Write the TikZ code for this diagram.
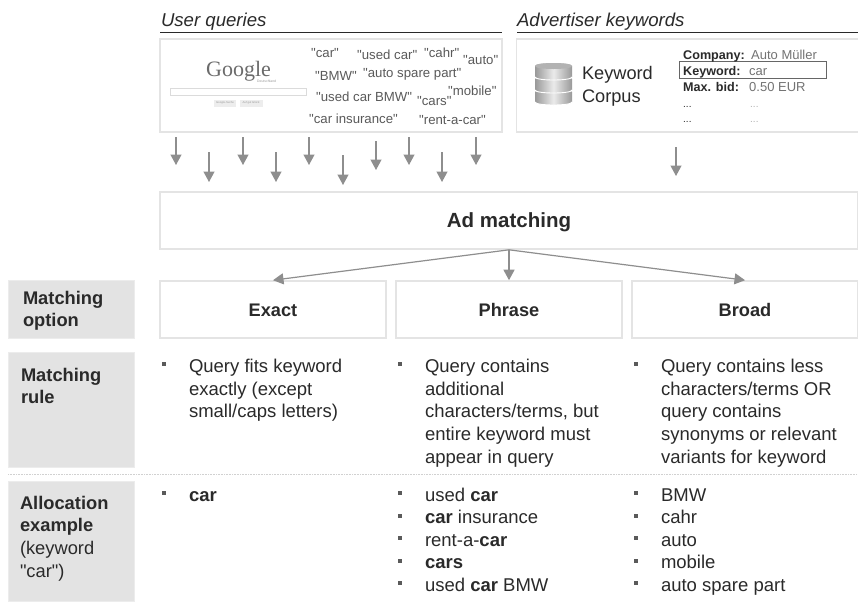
\documentclass[tikz,border=0pt]{standalone}
\usepackage{fontspec}
\setmainfont{Liberation Sans}
\newfontfamily\serifgoogle{Liberation Serif}
\newfontfamily\plainq{Liberation Sans}
\usetikzlibrary{arrows.meta}
\definecolor{boxline}{HTML}{E4E4E4}
\definecolor{labelfill}{HTML}{E3E3E3}
\definecolor{arrowgray}{HTML}{8E8E8E}
\definecolor{ink}{HTML}{2A2A2A}
\definecolor{querygray}{HTML}{5A5A5A}
\newcommand{\fs}[2]{\fontsize{#1}{#2}\selectfont}
\tikzset{
  x=1pt,y=-1pt,
  txt/.style={inner sep=0pt,outer sep=0pt,text=ink,font=\fs{18.5}{22.7}},
  lbl/.style={txt,anchor=base west},
  para/.style={txt,anchor=north west,align=left},
  boldlabel/.style={para,font=\fs{18.3}{22.4}},
  head/.style={lbl,font=\fs{18.6}{22}\itshape},
  whitebox/.style={draw=boxline,line width=1.6pt,fill=white,inner sep=0pt,text=ink},
  optbox/.style={whitebox,minimum width=226pt,minimum height=57pt,text height=17pt,text depth=3pt,font=\fs{18.2}{22}\bfseries},
  graybox/.style={fill=labelfill,draw=boxline!70!white,line width=1pt,minimum width=126pt,inner sep=0pt},
  bul/.style={fill=querygray,inner sep=0pt,minimum size=4pt},
  quer/.style={inner sep=0pt,anchor=base west,text=querygray,font=\fs{13.2}{15}\plainq},
  tbl/.style={inner sep=0pt,anchor=base west,text=ink,font=\fs{12.6}{15}\bfseries},
  tblv/.style={inner sep=0pt,anchor=base west,text=black!55,font=\fs{13}{15}},
  flow/.style={draw=arrowgray,line width=1.2pt,-{Triangle[width=11pt,length=10.5pt,fill=arrowgray]}},
  headrule/.style={draw=ink,line width=1pt},
  cyl/.style={left color=black!40,right color=black!40,middle color=black!8,draw=none},
}
\begin{document}
\begin{tikzpicture}
\useasboundingbox[fill=white] (0,0) rectangle (858,606);

% headers
\node[head] (hq) at (161,26) {User queries};
\node[head] (ha) at (517,26) {Advertiser keywords};
\coordinate (hqa) at (160,32); \coordinate (hqb) at (502,32);
\coordinate (haa) at (517,32); \coordinate (hab) at (858,32);
\draw[headrule] (hqa) -- (hqb);
\draw[headrule] (haa) -- (hab);

% top boxes
\node[whitebox,minimum width=342pt,minimum height=93pt] (qbox) at (331,85.5) {};
\node[whitebox,minimum width=345pt,minimum height=93pt] (kbox) at (689,85.5) {};

% Google mock
\node[inner sep=0pt,anchor=base west,text=black!58,font=\fs{22}{24}\serifgoogle] (glogo) at (206,76) {Google};
\node[inner sep=0pt,anchor=base west,text=black!40,font=\fs{3.4}{4}] (gde) at (257,82) {Deutschland};
\node[draw=black!14,line width=.8pt,minimum width=136pt,minimum height=7pt,inner sep=0pt] (gbar) at (238,92) {};
\node[fill=black!7,minimum width=22pt,minimum height=7pt,inner sep=0pt,text=black!40,font=\fs{2.8}{3}] (gb1) at (225,103) {Google-Suche};
\node[fill=black!7,minimum width=23pt,minimum height=7pt,inner sep=0pt,text=black!40,font=\fs{2.8}{3}] (gb2) at (251,103) {Auf gut Glück};

% queries
\node[quer] (q1) at (311,57) {"car"};
\node[quer] (q2) at (357,59) {"used car"};
\node[quer] (q3) at (424,57) {"cahr"};
\node[quer] (q4) at (463,64) {"auto"};
\node[quer] (q5) at (315,80) {"BMW"};
\node[quer] (q6) at (363,77) {"auto spare part"};
\node[quer] (q7) at (316,101) {"used car BMW"};
\node[quer] (q8) at (417,105) {"cars"};
\node[quer] (q9) at (448,95) {"mobile"};
\node[quer] (q10) at (309,123) {"car insurance"};
\node[quer] (q11) at (419,124) {"rent-a-car"};

% database icon
\foreach \a/\b in {92/102,79/90,66/77}{
  \shade[cyl] (535,\a) -- (535,\b) .. controls (535,\b+4) and (572,\b+4) .. (572,\b) -- (572,\a) .. controls (572,\a-4) and (535,\a-4) .. (535,\a) -- cycle;
  \draw[white,line width=.9pt] (535,\b) .. controls (535,\b+4) and (572,\b+4) .. (572,\b);
}
\fill[black!30] (535,66) .. controls (535,62) and (572,62) .. (572,66) .. controls (572,70) and (535,70) .. (535,66) -- cycle;

\node[para,font=\fs{18.2}{23}] (corpus) at (582,66) {Keyword\\Corpus};

% keyword table
\node[draw=black!60,line width=1pt,fill=white,minimum width=147pt,minimum height=17pt,inner sep=0pt] (kwrow) at (752.5,70) {};
\node[tbl] (t1) at (683,59) {Company:};
\node[tblv] (v1) at (751,59) {Auto Müller};
\node[tbl] (t2) at (683,75) {Keyword:};
\node[tblv] (v2) at (749,75) {car};
\node[tbl] (t3) at (683,91) {Max. bid:};
\node[tblv] (v3) at (749,91) {0.50 EUR};
\node[tbl,font=\fs{10}{12}] (t4) at (683,107) {...};
\node[tblv,text=black!30,font=\fs{10}{12}] (v4) at (750,107) {...};
\node[tbl,font=\fs{10}{12}] (t5) at (683,122) {...};
\node[tblv,text=black!30,font=\fs{10}{12}] (v5) at (750,122) {...};

% ad matching
\node[whitebox,minimum width=698pt,minimum height=57pt,text height=17pt,text depth=3pt,font=\fs{20.5}{24}\bfseries] (ad) at (509,220.5) {Ad matching};

% query arrows
\foreach \n/\px/\ya/\yb in {1/176/137/165,2/209/152/182,3/243/137/165,4/276/152/182,5/309/137/165,6/343/155/185,7/376/141/170,8/409/137/165,9/442/152/182,10/476/137/165,11/676/147/176}{
  \coordinate (as\n) at (\px,\ya);
  \coordinate (ae\n) at (\px,\yb);
  \draw[flow] (as\n) -- (ae\n);
}

% options
\node[optbox] (exact) at (273,309.5) {Exact};
\node[optbox] (phrase) at (509,309.5) {Phrase};
\node[optbox] (broad) at (745,309.5) {Broad};
\draw[flow] (ad.south) -- (exact.north);
\draw[flow] (ad.south) -- (phrase.north);
\draw[flow] (ad.south) -- (broad.north);

% gray labels
\node[graybox,minimum height=58pt] (g1) at (71,309) {};
\node[graybox,minimum height=115pt] (g2) at (71,409.5) {};
\node[graybox,minimum height=120pt] (g3) at (71,541) {};
\node[boldlabel] (l1) at (23,291) {\textbf{Matching}\\\textbf{option}};
\node[boldlabel] (l2) at (21,368) {\textbf{Matching}\\\textbf{rule}};
\node[boldlabel,font=\fs{18.3}{22.7}] (l3) at (20,496) {\textbf{Allocation}\\\textbf{example}\\(keyword\\{\plainq"car"})};

% rules
\foreach \n/\px in {a/164,b/400,c/636}{\node[bul] (r\n) at (\px,364) {};}
\node[para] (ra) at (189,359) {Query fits keyword\\exactly (except\\small/caps letters)};
\node[para] (rb) at (425,359) {Query contains\\additional\\characters/terms, but\\entire keyword must\\appear in query};
\node[para] (rc) at (661,359) {Query contains less\\characters/terms OR\\query contains\\synonyms or relevant\\variants for keyword};

% separator
\coordinate (sepa) at (8,474); \coordinate (sepb) at (858,474);
\draw[black!18,line width=.6pt,densely dotted] (sepa) -- (sepb);

% allocation
\node[bul] (ba1) at (164,493) {};
\node[lbl] (a1) at (189,501) {\textbf{car}};
\foreach \n/\yy/\tx in {1/501/used \textbf{car},2/523.5/\textbf{car} insurance,3/546/rent-a-\textbf{car},4/568.5/\textbf{cars},5/591/used \textbf{car} BMW}{
  \node[bul] (bp\n) at (400,\yy-8) {};
  \node[lbl] (p\n) at (425,\yy) {\tx};
}
\foreach \n/\yy/\tx in {1/501/BMW,2/523.5/cahr,3/546/auto,4/568.5/mobile,5/591/auto spare part}{
  \node[bul] (bc\n) at (636,\yy-8) {};
  \node[lbl] (c\n) at (661,\yy) {\tx};
}
\end{tikzpicture}
\end{document}
